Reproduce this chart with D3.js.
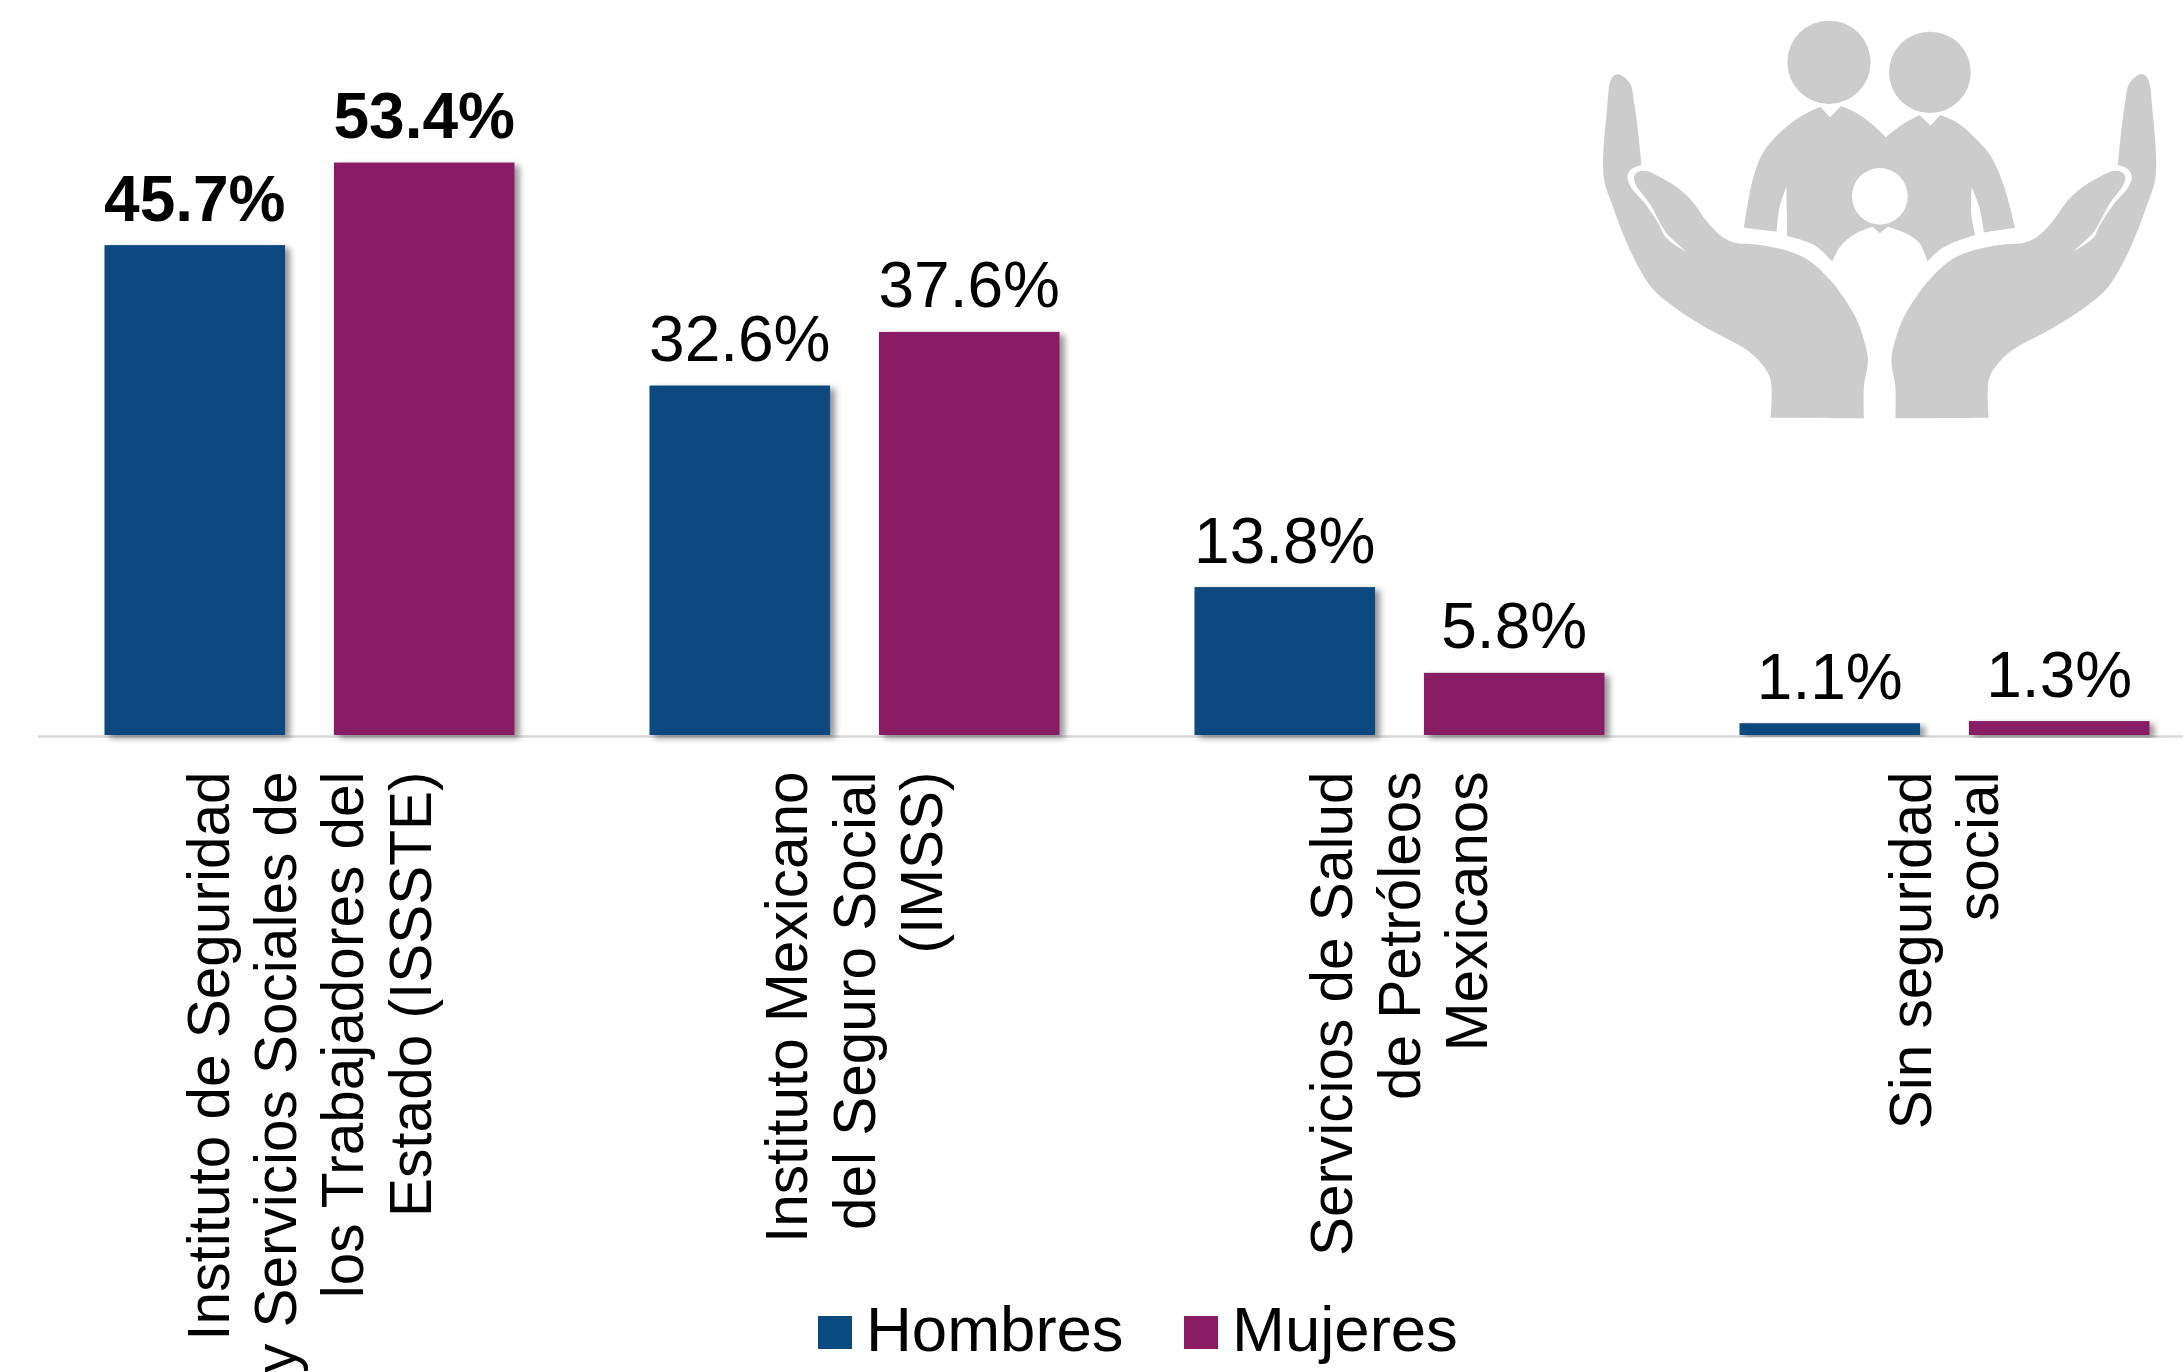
<!DOCTYPE html>
<html>
<head>
<meta charset="utf-8">
<title>Seguridad social</title>
<script src="https://d3js.org/d3.v7.min.js"></script>
<style>
  html, body { margin: 0; padding: 0; background: #fff; overflow: hidden; }
  svg { display: block; font-family: "Liberation Sans", Arial, sans-serif; }
</style>
</head>
<body>
<div id="chart"></div>
<script>
// values
var categories = [
  'Instituto de Seguridad\ny Servicios Sociales de\nlos Trabajadores del\nEstado (ISSSTE)',
  'Instituto Mexicano\ndel Seguro Social\n(IMSS)',
  'Servicios de Salud\nde Petróleos\nMexicanos',
  'Sin seguridad\nsocial'
];
var seriesNames = ['Hombres', 'Mujeres'];
var hombres = [45.7, 32.6, 13.8, 1.1];
var mujeres = [53.4, 37.6, 5.8, 1.3];
var seriesColors = ['#094a7e', '#8a1c66'];
var boldCategory = 0;

var w = 2183;
var h = 1372;
var baseY = 735;
var pxPerUnit = 10.72;
var lineHeight = 67.4;

var svg = d3.select('#chart').append('svg')
  .attr('width', w)
  .attr('height', h);

// bar shadow
var shadow = svg.append('defs').append('filter')
  .attr('id', 'barShadow')
  .attr('x', '-10%').attr('y', '-10%')
  .attr('width', '125%').attr('height', '125%');
shadow.append('feDropShadow')
  .attr('dx', 5).attr('dy', 3)
  .attr('stdDeviation', 3)
  .attr('flood-color', '#000')
  .attr('flood-opacity', 0.42);

var x0 = d3.scaleBand()
  .domain(categories)
  .range([37.5, 2217.5]);

var x1 = d3.scaleBand()
  .domain(seriesNames)
  .range([67, 477])
  .paddingInner(0.213);

var y = d3.scaleLinear()
  .domain([0, 60])
  .range([baseY, baseY - 60 * pxPerUnit]);

var color = d3.scaleOrdinal().domain(seriesNames).range(seriesColors);

// flat rows for the bars
var rows = [];
categories.forEach(function (c, i) {
  rows.push({ cat: c, idx: i, serie: seriesNames[0], value: hombres[i] });
  rows.push({ cat: c, idx: i, serie: seriesNames[1], value: mujeres[i] });
});

// axis first, bars sit on top of it
var axis = svg.append('g')
  .attr('transform', 'translate(0,' + (baseY + 1) + ')')
  .call(d3.axisBottom(x0).tickSize(0).tickFormat(''));

axis.select('.domain')
  .attr('stroke', '#d9d9d9')
  .attr('stroke-width', 2.5);

axis.selectAll('.tick').each(function (d) {
  var tick = d3.select(this);
  var lines = d.split('\n');
  tick.select('text').remove();
  lines.forEach(function (line, i) {
    tick.append('text')
      .attr('transform', 'translate(' + ((i - (lines.length - 1) / 2) * lineHeight - 2.5) + ',35.5) rotate(-90)')
      .attr('dy', '0.38em')
      .attr('text-anchor', 'end')
      .attr('font-size', 58.5)
      .attr('fill', '#000')
      .text(line);
  });
});

svg.append('g').selectAll('rect')
  .data(rows)
  .enter()
  .append('rect')
  .attr('x', function (d) { return x0(d.cat) + x1(d.serie); })
  .attr('y', function (d) { return y(d.value); })
  .attr('width', x1.bandwidth())
  .attr('height', function (d) { return y(0) - y(d.value); })
  .attr('fill', function (d) { return color(d.serie); })
  .attr('filter', 'url(#barShadow)');

svg.append('g').selectAll('text')
  .data(rows)
  .enter()
  .append('text')
  .attr('x', function (d) { return x0(d.cat) + x1(d.serie) + x1.bandwidth() / 2; })
  .attr('y', function (d) { return y(d.value) - 24.5; })
  .attr('text-anchor', 'middle')
  .attr('font-size', 64)
  .attr('font-weight', function (d) { return d.idx === boldCategory ? 'bold' : 'normal'; })
  .attr('fill', '#000')
  .text(function (d) { return d.value.toFixed(1) + '%'; });

// legend
var legendX = d3.scaleOrdinal().domain(seriesNames).range([818, 1184]);
var legend = svg.append('g').selectAll('g')
  .data(seriesNames)
  .enter()
  .append('g')
  .attr('transform', function (d) { return 'translate(' + legendX(d) + ',1316)'; });

legend.append('rect')
  .attr('width', 34)
  .attr('height', 33)
  .attr('fill', function (d) { return color(d); });

legend.append('text')
  .attr('x', 48)
  .attr('y', 35)
  .attr('font-size', 63.5)
  .attr('fill', '#000')
  .text(function (d) { return d; });

// family in hands icon. a repeated point keeps a sharp corner
var handPts = [
  [530,1253],[530,1253],[765,1255],[765,1255],[765,1160],[775,1080],[765,1020],[745,955],[715,895],[680,840],[625,780],[580,755],[530,740],[480,732],[440,728],
  [410,712],[370,665],[330,600],[290,558],[250,530],[220,514],[200,514],[187,527],[190,552],[225,610],[265,695],[290,725],[320,757],[320,757],
  [268,715],[250,675],[215,612],[178,560],[170,530],[180,507],[205,495],[205,495],[197,400],[187,310],[178,255],[165,235],[145,222],[130,235],
  [118,330],[110,530],[130,610],[180,760],[232,865],[280,915],[370,985],[470,1050],[510,1095],[530,1140],[530,1253],[530,1253]
];
var bodyPts = [
  [655,320],[655,320],[680,352],[680,352],[707,318],[707,318],[745,338],[785,372],[820,412],[820,412],[860,375],[905,345],[905,345],[933,377],[933,377],[957,345],[957,345],
  [1000,368],[1050,420],[1085,470],[1115,550],[1130,610],[1145,683],[1145,683],[1067,697],[1067,697],[1055,620],[1036,562],[1036,562],[1035,640],[1045,705],[1045,705],
  [985,730],[950,755],[925,785],[925,785],[905,730],[870,700],[825,680],[825,680],[805,700],[805,700],[787,680],[787,680],[745,700],[705,740],[685,785],[685,785],
  [640,735],[572,708],[572,708],[571,640],[570,560],[570,560],[553,620],[545,695],[545,695],[463,683],[463,683],[485,540],[515,450],[570,380],[620,340],[655,320],[655,320]
];
var iconLine = d3.line().curve(d3.curveCatmullRom.alpha(0.5));

var icon = svg.append('g')
  .attr('transform', 'translate(1560,0) scale(' + (623 / 1568) + ',' + (1 / 3) + ')')
  .attr('fill', '#cccccc');

icon.append('path').attr('d', iconLine(handPts));
icon.append('path').attr('d', iconLine(handPts)).attr('transform', 'translate(1609,0) scale(-1,1)');
icon.append('path').attr('d', iconLine(bodyPts));
icon.append('ellipse').attr('cx', 677).attr('cy', 187).attr('rx', 105).attr('ry', 125);
icon.append('ellipse').attr('cx', 931).attr('cy', 217).attr('rx', 103).attr('ry', 122);
icon.append('ellipse').attr('cx', 805).attr('cy', 589).attr('rx', 70).attr('ry', 85).attr('fill', '#fff');
</script>
</body>
</html>
